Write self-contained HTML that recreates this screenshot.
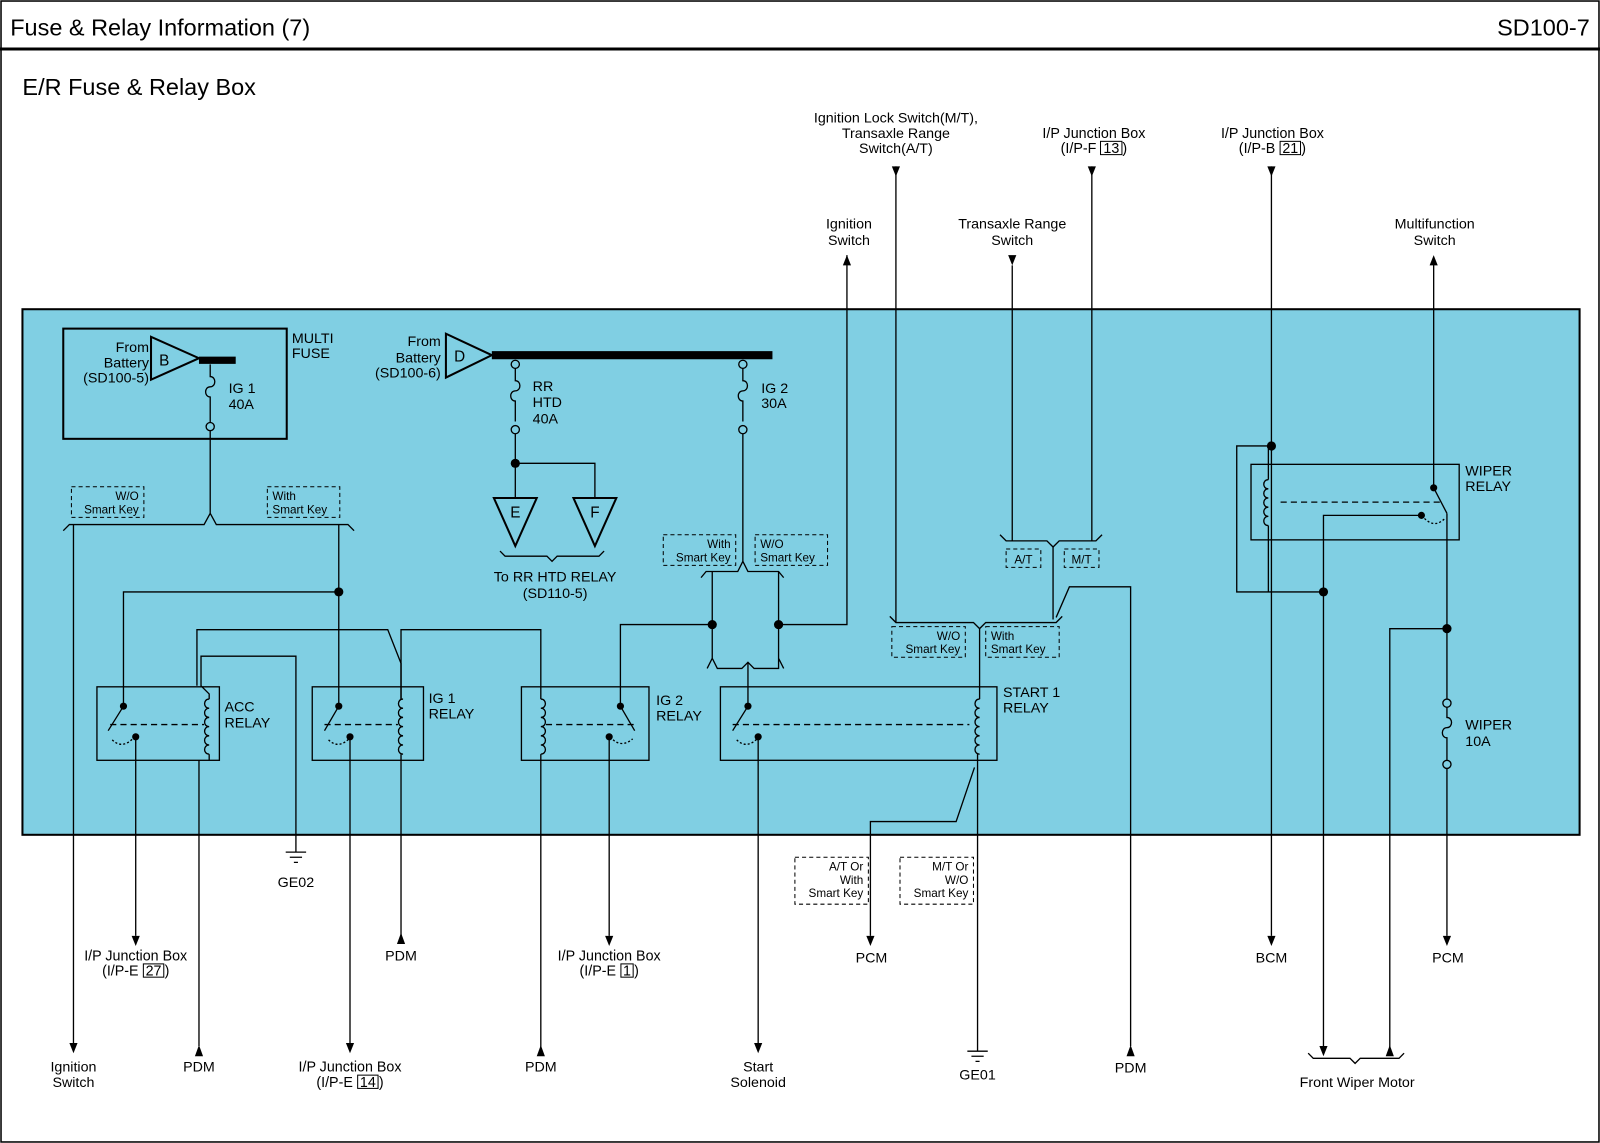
<!DOCTYPE html>
<html><head><meta charset="utf-8"><style>
html,body{margin:0;padding:0;background:#fff;overflow:hidden}
#w{position:relative;width:1568px;height:1120px;transform:scale(1.020408,1.020536);transform-origin:0 0}
svg{display:block;position:absolute;left:0;top:0}
text{font-family:"Liberation Sans",sans-serif;font-size:14px;fill:#000}
.s{font-size:11.5px}
.lb{position:absolute;font-family:"Liberation Sans",sans-serif;font-size:14px;line-height:15px;text-align:center;width:200px;white-space:nowrap}
.lb b{font-weight:normal;border:1px solid #000;padding:0 2px;line-height:12px;display:inline-block}
</style></head><body><div id="w">
<svg width="1568" height="1120" viewBox="0 0 1568 1120" xmlns="http://www.w3.org/2000/svg">
<rect x="1" y="1" width="1566" height="1118" fill="#fff" stroke="#000" stroke-width="1.5"/>
<line x1="0" y1="48" x2="1568" y2="48" stroke="#000" stroke-width="3"/>
<text x="10" y="35" style="font-size:23px">Fuse &amp; Relay Information (7)</text>
<text x="1558" y="35" text-anchor="end" style="font-size:23px">SD100-7</text>
<text x="22" y="93" style="font-size:23px">E/R Fuse &amp; Relay Box</text>

<rect x="22" y="303" width="1526" height="515" fill="#80cfe3" stroke="#000" stroke-width="2"/>
<rect x="62" y="322" width="219" height="108" fill="none" stroke="#000" stroke-width="2"/>
<text x="286" y="336">MULTI</text><text x="286" y="351">FUSE</text>

<g fill="none" stroke="#000" stroke-width="1.3">
<path d="M148,330 L148,372 L195,351 Z" stroke-width="2"/>
<line x1="195" y1="353" x2="231" y2="353" stroke-width="7"/>
<path d="M206,357 v12 c6,0 6,10 0,10 c-6,0 -6,10 0,10 v25"/><circle cx="206" cy="418" r="4"/>
<path d="M437,327 L437,370 L482,348 Z" stroke-width="2"/>
<line x1="482" y1="348" x2="757" y2="348" stroke-width="8"/>
<circle cx="505" cy="357" r="4"/><path d="M505,361 v12 c6,0 6,10 0,10 c-6,0 -6,10 0,10 v20"/><circle cx="505" cy="421" r="4"/>
<circle cx="728" cy="357" r="4"/><path d="M728,361 v12 c6,0 6,10 0,10 c-6,0 -6,10 0,10 v20"/><circle cx="728" cy="421" r="4"/>
<path d="M505,425 V454 H583 V488"/>
<line x1="505" y1="454" x2="505" y2="488"/>
<path d="M484,488 H526 L505,535 Z" stroke-width="2"/>
<path d="M562,488 H604 L583,535 Z" stroke-width="2"/>
<path d="M490,540 l5,5 H536 l5,5 l5,-5 H587 l5,-5"/>
<path d="M206,422 V503 l-6,11 H68 l-6,6 M206,503 l6,11 H341 l6,6"/>
<line x1="72" y1="514" x2="72" y2="1022"/>
<line x1="332" y1="514" x2="332" y2="690"/>
<path d="M332,580 H121 V690"/>
<rect x="95" y="673" width="120" height="72"/>
<line x1="108" y1="710" x2="200" y2="710" stroke-dasharray="6,4"/>
<line x1="121" y1="692" x2="106" y2="716"/>
<path d="M110,725 q10,10 22,-3" stroke-dasharray="2,2"/>
<line x1="133" y1="722" x2="133" y2="917"/>
<path d="M205,685 c-6,0 -6,9 0,9 c-6,0 -6,9 0,9 c-6,0 -6,9 0,9 c-6,0 -6,9 0,9 c-6,0 -6,9 0,9 c-6,0 -6,9 0,9"/>
<path d="M205,685 V680 L197,672 V643 H290 V835"/>
<path d="M205,739 V745"/><line x1="195" y1="745" x2="195" y2="1025"/>
<path d="M193,672 V617 H380 L393,650 V685"/>
<rect x="306" y="673" width="109" height="72"/>
<line x1="318" y1="710" x2="390" y2="710" stroke-dasharray="6,4"/>
<line x1="332" y1="692" x2="318" y2="716"/>
<path d="M322,725 q10,10 22,-3" stroke-dasharray="2,2"/>
<line x1="343" y1="722" x2="343" y2="1022"/>
<path d="M395,685 c-6,0 -6,9 0,9 c-6,0 -6,9 0,9 c-6,0 -6,9 0,9 c-6,0 -6,9 0,9 c-6,0 -6,9 0,9 c-6,0 -6,9 0,9"/>
<line x1="393" y1="739" x2="393" y2="918"/>
<path d="M393,685 V617 H530 V685"/>
<rect x="511" y="673" width="125" height="72"/>
<line x1="535" y1="710" x2="625" y2="710" stroke-dasharray="6,4"/>
<path d="M530,685 c6,0 6,9 0,9 c6,0 6,9 0,9 c6,0 6,9 0,9 c6,0 6,9 0,9 c6,0 6,9 0,9 c6,0 6,9 0,9"/>
<line x1="530" y1="739" x2="530" y2="1028"/>
<line x1="608" y1="692" x2="622" y2="716"/>
<path d="M598,722 q10,12 22,2" stroke-dasharray="2,2"/>
<line x1="597" y1="722" x2="597" y2="917"/>
<path d="M608,692 V612 H698"/>
<path d="M728,425 V550 l-5,10 H692 l-5,6 M728,550 l5,10 H763 l5,6"/>
<path d="M698,560 V645 l-5,10 M698,645 l5,10 H727 l6,-6 l6,6 H763 V560 M763,645 l5,10"/>
<line x1="733" y1="649" x2="733" y2="692"/>
<path d="M763,612 H830 V250"/>
<rect x="706" y="673" width="271" height="72"/>
<line x1="718" y1="710" x2="950" y2="710" stroke-dasharray="6,4"/>
<line x1="733" y1="692" x2="718" y2="716"/>
<path d="M722,725 q10,10 22,-3" stroke-dasharray="2,2"/>
<line x1="743" y1="722" x2="743" y2="1022"/>
<path d="M960,685 c-6,0 -6,9 0,9 c-6,0 -6,9 0,9 c-6,0 -6,9 0,9 c-6,0 -6,9 0,9 c-6,0 -6,9 0,9 c-6,0 -6,9 0,9"/>
<path d="M960,685 V616 M872,604 l6,6 H954 l6,6 l6,-6 H1035 l6,-6"/>
<line x1="958" y1="739" x2="958" y2="1030"/>
<path d="M955,752 L937,805 H853 V917"/>
<line x1="878" y1="163" x2="878" y2="610"/>
<path d="M1032,536 V607 M1035,605 L1048,575 H1108 V1025"/>
<path d="M980,524 l6,6 H1026 l6,6 l6,-6 H1074 l6,-6"/>
<line x1="992" y1="260" x2="992" y2="530"/>
<line x1="1070" y1="163" x2="1070" y2="530"/>
<line x1="1246" y1="163" x2="1246" y2="917"/>
<path d="M1246,437 H1212 V580 H1297"/>
<rect x="1226" y="455" width="204" height="74"/>
<line x1="1255" y1="492" x2="1415" y2="492" stroke-dasharray="6,4"/>
<path d="M1243,470 c-6,0 -6,9 0,9 c-6,0 -6,9 0,9 c-6,0 -6,9 0,9 c-6,0 -6,9 0,9 c-6,0 -6,9 0,9"/>
<path d="M1243,470 V440 M1243,515 V580"/>
<path d="M1297,1025 V505 H1393"/>
<line x1="1405" y1="255" x2="1405" y2="478"/>
<line x1="1405" y1="478" x2="1418" y2="503"/>
<path d="M1396,508 q10,10 20,0" stroke-dasharray="2,2"/>
<line x1="1418" y1="503" x2="1418" y2="685"/>
<path d="M1418,616 H1362 V1030"/>
<circle cx="1418" cy="689" r="4"/><path d="M1418,693 v10 c6,0 6,10 0,10 c-6,0 -6,10 0,10 v22"/><circle cx="1418" cy="749" r="4"/>
<line x1="1418" y1="753" x2="1418" y2="917"/>
<path d="M1282,1032 l5,5 H1323 l5,5 l5,-5 H1371 l5,-5"/>
<path d="M280,835 H300 M284,840 H296 M288,845 H292"/>
<path d="M948,1030 H968 M952,1035 H964 M956,1040 H960"/>
</g>
<g fill="#000">
<path d="M826,260 L834,260 L830,250Z"/>
<path d="M1401,260 L1409,260 L1405,250Z"/>
<path d="M874,163 L882,163 L878,173Z"/>
<path d="M988,250 L996,250 L992,260Z"/>
<path d="M1066,163 L1074,163 L1070,173Z"/>
<path d="M1242,163 L1250,163 L1246,173Z"/>
<path d="M389,925 L397,925 L393,914Z"/>
<path d="M191,1035 L199,1035 L195,1024Z"/>
<path d="M526,1035 L534,1035 L530,1024Z"/>
<path d="M1104,1035 L1112,1035 L1108,1024Z"/>
<path d="M1358,1035 L1366,1035 L1362,1024Z"/>
<path d="M1293,1025 L1301,1025 L1297,1035Z"/>
<path d="M68,1022 L76,1022 L72,1032Z"/>
<path d="M129,917 L137,917 L133,927Z"/>
<path d="M339,1022 L347,1022 L343,1032Z"/>
<path d="M593,917 L601,917 L597,927Z"/>
<path d="M739,1022 L747,1022 L743,1032Z"/>
<path d="M849,917 L857,917 L853,927Z"/>
<path d="M1242,917 L1250,917 L1246,927Z"/>
<path d="M1414,917 L1422,917 L1418,927Z"/>
<circle cx="332" cy="580" r="4.5"/><circle cx="505" cy="454" r="4.5"/>
<circle cx="698" cy="612" r="4.5"/><circle cx="763" cy="612" r="4.5"/>
<circle cx="1246" cy="437" r="4.5"/><circle cx="1297" cy="580" r="4.5"/><circle cx="1418" cy="616" r="4.5"/>
<circle cx="121" cy="692" r="3.5"/><circle cx="133" cy="722" r="3.5"/>
<circle cx="332" cy="692" r="3.5"/><circle cx="343" cy="722" r="3.5"/>
<circle cx="608" cy="692" r="3.5"/><circle cx="597" cy="722" r="3.5"/>
<circle cx="733" cy="692" r="3.5"/><circle cx="743" cy="722" r="3.5"/>
<circle cx="1405" cy="478" r="3.5"/><circle cx="1393" cy="505" r="3.5"/>
</g>
<g fill="none" stroke="#000" stroke-dasharray="4,3" stroke-width="1">
<rect x="70" y="477" width="71" height="30"/><rect x="262" y="477" width="71" height="30"/>
<rect x="650" y="524" width="71" height="30"/><rect x="740" y="524" width="71" height="30"/>
<rect x="874" y="614" width="72" height="30"/><rect x="966" y="614" width="72" height="30"/>
<rect x="986" y="538" width="34" height="18"/><rect x="1043" y="538" width="34" height="18"/>
<rect x="779" y="840" width="72" height="46"/><rect x="882" y="840" width="72" height="46"/>
</g>
<text class="s" x="136" y="490" text-anchor="end">W/O</text><text class="s" x="136" y="503" text-anchor="end">Smart Key</text>
<text class="s" x="267" y="490">With</text><text class="s" x="267" y="503">Smart Key</text>
<text class="s" x="716" y="537" text-anchor="end">With</text><text class="s" x="716" y="550" text-anchor="end">Smart Key</text>
<text class="s" x="745" y="537">W/O</text><text class="s" x="745" y="550">Smart Key</text>
<text class="s" x="941" y="627" text-anchor="end">W/O</text><text class="s" x="941" y="640" text-anchor="end">Smart Key</text>
<text class="s" x="971" y="627">With</text><text class="s" x="971" y="640">Smart Key</text>
<text class="s" x="1003" y="552" text-anchor="middle">A/T</text><text class="s" x="1060" y="552" text-anchor="middle">M/T</text>
<text class="s" x="846" y="853" text-anchor="end">A/T Or</text><text class="s" x="846" y="866" text-anchor="end">With</text><text class="s" x="846" y="879" text-anchor="end">Smart Key</text>
<text class="s" x="949" y="853" text-anchor="end">M/T Or</text><text class="s" x="949" y="866" text-anchor="end">W/O</text><text class="s" x="949" y="879" text-anchor="end">Smart Key</text>
<text x="146" y="345" text-anchor="end">From</text><text x="146" y="360" text-anchor="end">Battery</text><text x="146" y="375" text-anchor="end">(SD100-5)</text>
<text x="156" y="358" style="font-size:15px">B</text>
<text x="224" y="385">IG 1</text><text x="224" y="401">40A</text>
<text x="432" y="339" text-anchor="end">From</text><text x="432" y="355" text-anchor="end">Battery</text><text x="432" y="370" text-anchor="end">(SD100-6)</text>
<text x="445" y="354" style="font-size:15px">D</text>
<text x="522" y="383">RR</text><text x="522" y="399">HTD</text><text x="522" y="415">40A</text>
<text x="746" y="385">IG 2</text><text x="746" y="400">30A</text>
<text x="505" y="507" text-anchor="middle" style="font-size:15px">E</text>
<text x="583" y="507" text-anchor="middle" style="font-size:15px">F</text>
<text x="544" y="570" text-anchor="middle">To RR HTD RELAY</text><text x="544" y="586" text-anchor="middle">(SD110-5)</text>
<text x="220" y="697">ACC</text><text x="220" y="713">RELAY</text>
<text x="420" y="689">IG 1</text><text x="420" y="704">RELAY</text>
<text x="643" y="691">IG 2</text><text x="643" y="706">RELAY</text>
<text x="983" y="683">START 1</text><text x="983" y="698">RELAY</text>
<text x="1436" y="466">WIPER</text><text x="1436" y="481">RELAY</text>
<text x="1436" y="715">WIPER</text><text x="1436" y="731">10A</text>
<text x="878" y="120" text-anchor="middle">Ignition Lock Switch(M/T),</text><text x="878" y="135" text-anchor="middle">Transaxle Range</text><text x="878" y="150" text-anchor="middle">Switch(A/T)</text>
<text x="832" y="224" text-anchor="middle">Ignition</text><text x="832" y="240" text-anchor="middle">Switch</text>
<text x="992" y="224" text-anchor="middle">Transaxle Range</text><text x="992" y="240" text-anchor="middle">Switch</text>
<text x="1406" y="224" text-anchor="middle">Multifunction</text><text x="1406" y="240" text-anchor="middle">Switch</text>
<text x="290" y="869" text-anchor="middle">GE02</text>
<text x="393" y="941" text-anchor="middle">PDM</text>
<text x="854" y="943" text-anchor="middle">PCM</text>
<text x="1246" y="943" text-anchor="middle">BCM</text>
<text x="1419" y="943" text-anchor="middle">PCM</text>
<text x="72" y="1050" text-anchor="middle">Ignition</text><text x="72" y="1065" text-anchor="middle">Switch</text>
<text x="195" y="1050" text-anchor="middle">PDM</text>
<text x="530" y="1050" text-anchor="middle">PDM</text>
<text x="743" y="1050" text-anchor="middle">Start</text><text x="743" y="1065" text-anchor="middle">Solenoid</text>
<text x="958" y="1058" text-anchor="middle">GE01</text>
<text x="1108" y="1051" text-anchor="middle">PDM</text>
<text x="1330" y="1065" text-anchor="middle">Front Wiper Motor</text>
</svg>
<div class="lb" style="left:972px;top:123px">I/P Junction Box<br>(I/P-F <b>13</b>)</div>
<div class="lb" style="left:1147px;top:123px">I/P Junction Box<br>(I/P-B <b>21</b>)</div>
<div class="lb" style="left:33px;top:929px">I/P Junction Box<br>(I/P-E <b>27</b>)</div>
<div class="lb" style="left:497px;top:929px">I/P Junction Box<br>(I/P-E <b>1</b>)</div>
<div class="lb" style="left:243px;top:1038px">I/P Junction Box<br>(I/P-E <b>14</b>)</div>
</div></body></html>
